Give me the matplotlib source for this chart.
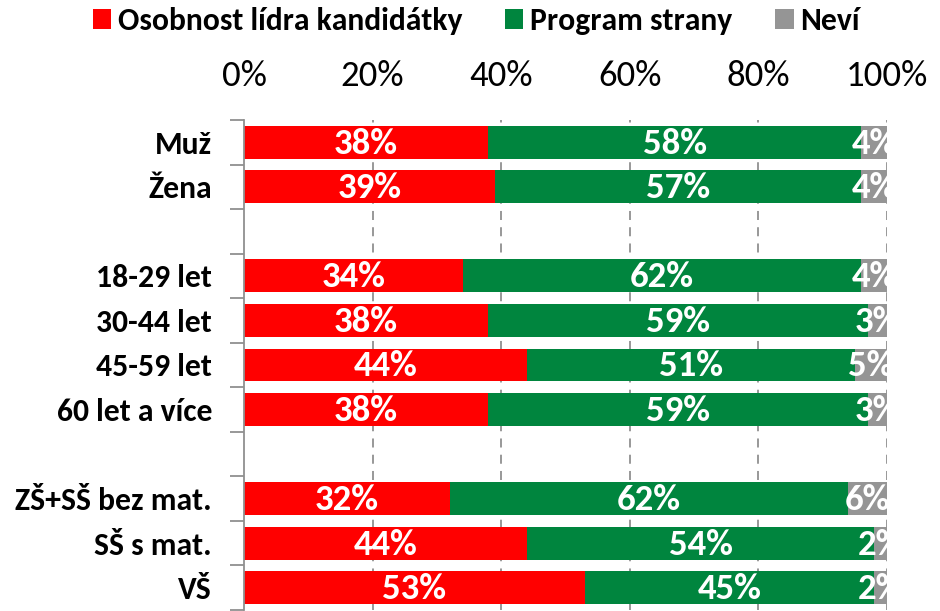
import numpy as np
import matplotlib.pyplot as plt

plt.rcParams['font.family'] = ['Carlito', 'DejaVu Sans']

# kategorie (prázdné řádky = mezery mezi skupinami)
categories = ['Muž', 'Žena', '', '18-29 let', '30-44 let', '45-59 let', '60 let a více',
              '', 'ZŠ+SŠ bez mat.', 'SŠ s mat.', 'VŠ']
osobnost = [38, 39, np.nan, 34, 38, 44, 38, np.nan, 32, 44, 53]
program = [58, 57, np.nan, 62, 59, 51, 59, np.nan, 62, 54, 45]
nevi = [4, 4, np.nan, 4, 3, 5, 3, np.nan, 6, 2, 2]

series = ['Osobnost lídra kandidátky', 'Program strany', 'Neví']
colors = ['#FF0000', '#00853E', '#959595']

fig = plt.figure(figsize=(9.4, 6.11), dpi=100)
ax = fig.add_axes([244 / 940, 1 - 610 / 611, (887 - 244) / 940, (610 - 120) / 611])

y = np.arange(len(categories))
left = np.zeros(len(categories))
for name, vals, col in zip(series, [osobnost, program, nevi], colors):
    vals = np.array(vals, dtype=float)
    w = np.nan_to_num(vals)
    ax.barh(y, w, left=left, height=0.74, color=col, label=name, zorder=2)
    for yi, v, l in zip(y, vals, left):
        if not np.isnan(v):
            ax.text(l + v / 2, yi + 0.03, f'{v:.0f}%', ha='center', va='center',
                    color='white', fontsize=26.5, fontweight='bold', zorder=3,
                    clip_on=True)
    left += w

ax.set_xlim(0, 100)
ax.set_ylim(len(categories) - 0.5, -0.5)

# osa x nahoře
ax.xaxis.tick_top()
ax.set_xticks(np.arange(0, 101, 20))
ax.set_xticklabels([f'{t}%' for t in range(0, 101, 20)], fontsize=26.5)
ax.tick_params(axis='x', length=0, pad=20)
for t in range(20, 101, 20):
    ax.axvline(t, color='#909090', linestyle=(0, (5, 4)), linewidth=1.3, zorder=1)

# osa y
ax.set_yticks(y)
ax.set_yticklabels(categories, fontsize=22.8, fontweight='bold')
ax.set_yticks(np.arange(-0.5, len(categories)), minor=True)
ax.tick_params(axis='y', which='major', length=0, pad=23)
ax.tick_params(axis='y', which='minor', length=10, width=1.3, color='#909090')

for s in ['top', 'right', 'bottom']:
    ax.spines[s].set_visible(False)
ax.spines['left'].set_color('#909090')
ax.spines['left'].set_linewidth(1.3)

fig.legend(loc='center', bbox_to_anchor=(0.507, 1 - 21 / 611), ncol=3, frameon=False,
           prop={'weight': 'bold', 'size': 22.8}, handlelength=0.57, handleheight=0.57,
           handletextpad=0.22, columnspacing=1.35, borderpad=0, borderaxespad=0)

fig.savefig('out.png', dpi=100)
